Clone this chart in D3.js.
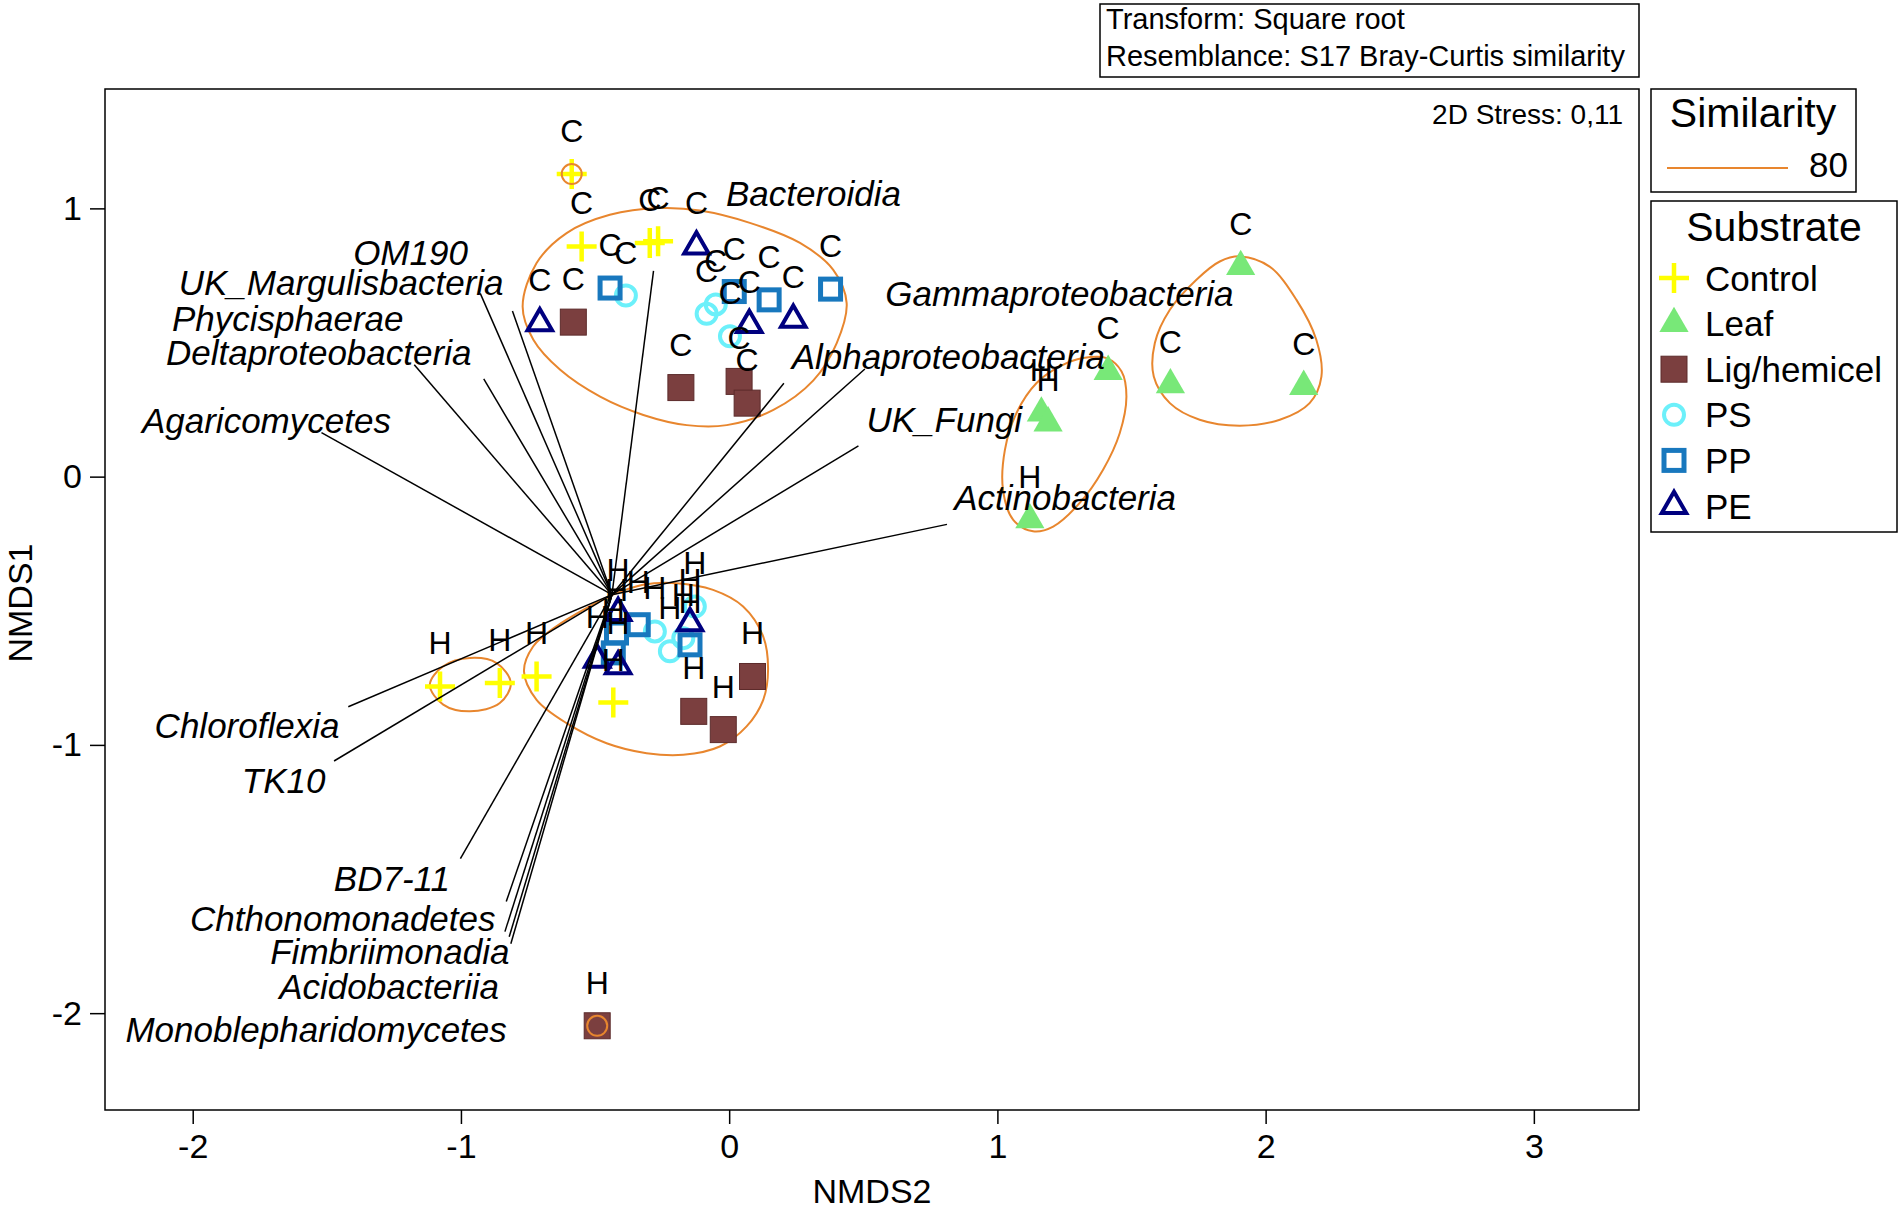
<!DOCTYPE html>
<html>
<head>
<meta charset="utf-8">
<script src="https://cdn.jsdelivr.net/npm/d3@7"></script>
<style>
  body { margin: 0; background: #fff; }
  svg { display: block; font-family: "Liberation Sans", Arial, sans-serif; }
</style>
</head>
<body>
<svg id="chart" width="1902" height="1211"></svg>
<script>
// ---- data (NMDS2 = x, NMDS1 = y) ----
const substrates = ["Control", "Leaf", "Lig/hemicel", "PS", "PP", "PE"];

const controlPts = [[-0.587, 1.128, "C"], [-0.550, 0.858, "C"], [-0.296, 0.871, "C"], [-0.265, 0.877, "C"],
                    [-1.078, -0.782, "H"], [-0.855, -0.769, "H"], [-0.718, -0.745, "H"], [-0.432, -0.842, "H"]];
const leafPts = [[1.907, 0.783, "C"], [1.413, 0.392, "C"], [1.645, 0.342, "C"], [2.142, 0.336, "C"],
                 [1.164, 0.237, "H"], [1.189, 0.200, "H"], [1.121, -0.161, "H"]];
const ligPts = [[-0.581, 0.576, "C"], [-0.180, 0.332, "C"], [0.037, 0.355, "C"], [0.067, 0.274, "C"],
                [0.087, -0.745, "H"], [-0.132, -0.875, "H"], [-0.022, -0.943, "H"], [-0.492, -2.047, "H"]];
const psPts = [[-0.385, 0.675, "C"], [-0.050, 0.642, "C"], [-0.084, 0.607, "C"], [0.003, 0.523, "C"],
               [-0.277, -0.577, "H"], [-0.221, -0.651, "H"], [-0.171, -0.602, "H"], [-0.128, -0.484, "H"]];
const ppPts = [[-0.444, 0.703, "C"], [0.019, 0.690, "C"], [0.149, 0.659, "C"], [0.378, 0.699, "C"],
               [-0.420, -0.583, "H"], [-0.339, -0.552, "H"], [-0.432, -0.657, "H"], [-0.146, -0.627, "H"]];
const pePts = [[-0.706, 0.572, "C"], [-0.122, 0.858, "C"], [0.075, 0.566, "C"], [0.239, 0.585, "C"],
               [-0.492, -0.682, "H"], [-0.414, -0.707, "H"], [-0.414, -0.508, "H"], [-0.146, -0.546, "H"]];

// vector overlay: origin, end of each line, label position (x, baseline y) and side
const vecOrigin = [-0.437, -0.440];
const vectors = [
  ["Agaricomycetes", -1.520, 0.164, -1.261, 0.164, "end"],
  ["Deltaproteobacteria", -1.174, 0.417, -0.961, 0.417, "end"],
  ["Phycisphaerae", -0.915, 0.364, -1.214, 0.544, "end"],
  ["UK_Margulisbacteria", -0.928, 0.683, -0.841, 0.676, "end"],
  ["OM190", -0.808, 0.617, -0.974, 0.790, "end"],
  ["Bacteroidia", -0.282, 0.767, -0.012, 1.010, "start"],
  ["Alphaproteobacteria", 0.204, 0.348, 0.233, 0.402, "start"],
  ["Gammaproteobacteria", 0.506, 0.401, 0.582, 0.635, "start"],
  ["UK_Fungi", 0.482, 0.115, 0.512, 0.168, "start"],
  ["Actinobacteria", 0.812, -0.178, 0.839, -0.125, "start"],
  ["Chloroflexia", -1.420, -0.858, -1.453, -0.975, "end"],
  ["TK10", -1.473, -1.060, -1.505, -1.178, "end"],
  ["BD7-11", -1.002, -1.424, -1.041, -1.543, "end"],
  ["Chthonomonadetes", -0.831, -1.584, -0.871, -1.694, "end"],
  ["Fimbriimonadia", -0.836, -1.696, -0.819, -1.818, "end"],
  ["Acidobacteriia", -0.820, -1.715, -0.858, -1.949, "end"],
  ["Monoblepharidomycetes", -0.814, -1.741, -0.829, -2.106, "end"]
];

// 80% similarity contours
const clusterTop = [[-0.770, 0.634], [-0.718, 0.796], [-0.606, 0.908], [-0.445, 0.976], [-0.258, 1.001],
  [-0.109, 0.992], [0.077, 0.946], [0.264, 0.871], [0.388, 0.771], [0.438, 0.647], [0.401, 0.498],
  [0.314, 0.359], [0.165, 0.249], [-0.009, 0.192], [-0.158, 0.192], [-0.320, 0.230], [-0.481, 0.298],
  [-0.630, 0.398], [-0.730, 0.510]];
const clusterBottom = [[-0.765, -0.726], [-0.731, -0.633], [-0.644, -0.558], [-0.532, -0.490], [-0.433, -0.440],
  [-0.321, -0.403], [-0.197, -0.397], [-0.060, -0.422], [0.052, -0.484], [0.127, -0.596], [0.145, -0.720],
  [0.127, -0.832], [0.065, -0.931], [-0.035, -1.006], [-0.171, -1.037], [-0.308, -1.031], [-0.457, -0.994],
  [-0.606, -0.919], [-0.718, -0.832]];
const clusterCtrlH = [[-1.116, -0.776], [-1.066, -0.707], [-0.966, -0.676], [-0.867, -0.695], [-0.814, -0.769],
  [-0.855, -0.844], [-0.966, -0.875], [-1.066, -0.850]];
const clusterLeafC = [[1.907, 0.821], [2.015, 0.783], [2.115, 0.659], [2.189, 0.510], [2.208, 0.373],
  [2.164, 0.274], [2.053, 0.212], [1.903, 0.190], [1.754, 0.212], [1.643, 0.274], [1.583, 0.373],
  [1.587, 0.498], [1.643, 0.622], [1.742, 0.734], [1.829, 0.802]];
const clusterLeafH = [[1.407, 0.442], [1.463, 0.392], [1.481, 0.299], [1.456, 0.162], [1.394, 0.026],
  [1.307, -0.098], [1.208, -0.186], [1.133, -0.204], [1.059, -0.161], [1.021, -0.049], [1.028, 0.100],
  [1.071, 0.237], [1.146, 0.349], [1.233, 0.411], [1.319, 0.442]];
const singleClusters = [[-0.587, 1.128], [-0.492, -2.047]];

const xTicks = [-2, -1, 0, 1, 2, 3];
const yTicks = [-2, -1, 0, 1];

// ---- styles ----
const ORANGE = "#e8862e";
const col = {
  "Control": "#ffff00", "Leaf": "#78e878", "Lig/hemicel": "#7b3f3f",
  "PS": "#6cf0fa", "PP": "#1878be", "PE": "#00007f"
};

const svg = d3.select("#chart");
const x = d3.scaleLinear().domain([-2.327, 3.392]).range([105, 1639]);
const y = d3.scaleLinear().domain([-2.361, 1.445]).range([1110, 89]);

function marker(g, name, cx, cy) {
    if (name === "Control") {
        g.append("path")
            .attr("d", `M${cx - 15},${cy}H${cx + 15}M${cx},${cy - 15}V${cy + 15}`)
            .attr("stroke", col[name]).attr("stroke-width", 4.5).attr("fill", "none");
    } else if (name === "Leaf") {
        g.append("path").attr("d", d3.symbol(d3.symbolTriangle, 370)())
            .attr("transform", `translate(${cx},${cy})`).attr("fill", col[name]);
    } else if (name === "Lig/hemicel") {
        g.append("rect").attr("x", cx - 13).attr("y", cy - 13).attr("width", 26).attr("height", 26)
            .attr("fill", col[name]).attr("stroke", "#5c2b2b").attr("stroke-width", 1);
    } else if (name === "PS") {
        g.append("circle").attr("cx", cx).attr("cy", cy).attr("r", 10)
            .attr("fill", "none").attr("stroke", col[name]).attr("stroke-width", 4);
    } else if (name === "PP") {
        g.append("rect").attr("x", cx - 10).attr("y", cy - 10).attr("width", 20).attr("height", 20)
            .attr("fill", "none").attr("stroke", col[name]).attr("stroke-width", 5);
    } else if (name === "PE") {
        g.append("path").attr("d", d3.symbol(d3.symbolTriangle, 260)())
            .attr("transform", `translate(${cx},${cy})`)
            .attr("fill", "none").attr("stroke", col[name]).attr("stroke-width", 4)
            .attr("stroke-linejoin", "miter");
    }
}

// ---- top info box ----
svg.append("rect").attr("x", 1100).attr("y", 4).attr("width", 539).attr("height", 73)
    .attr("fill", "none").attr("stroke", "#000").attr("stroke-width", 1.5);
svg.append("text").attr("x", 1106).attr("y", 29).attr("font-size", 29).text("Transform: Square root");
svg.append("text").attr("x", 1106).attr("y", 66).attr("font-size", 29).text("Resemblance: S17 Bray-Curtis similarity");

// ---- plot frame & axes ----
svg.append("rect").attr("x", 105).attr("y", 89).attr("width", 1534).attr("height", 1021)
    .attr("fill", "none").attr("stroke", "#000").attr("stroke-width", 1.5);

const gx = svg.append("g").attr("transform", "translate(0,1110)")
    .call(d3.axisBottom(x).tickValues(xTicks).tickSize(14).tickPadding(10).tickFormat(d3.format("d")));
const gy = svg.append("g").attr("transform", "translate(105,0)")
    .call(d3.axisLeft(y).tickValues(yTicks).tickSize(15).tickPadding(8).tickFormat(d3.format("d")));
[gx, gy].forEach(g => {
    g.select(".domain").remove();
    g.selectAll("line").attr("stroke", "#000").attr("stroke-width", 1.5);
    g.selectAll("text").attr("font-size", 34).attr("font-family", "Liberation Sans, Arial, sans-serif").attr("fill", "#000");
});
// d3 uses the unicode minus; the original uses a hyphen
gx.selectAll("text").text(d => String(d));
gy.selectAll("text").text(d => String(d));

svg.append("text").attr("x", 872).attr("y", 1203).attr("text-anchor", "middle")
    .attr("font-size", 34).text("NMDS2");
svg.append("text").attr("transform", "translate(32,603) rotate(-90)").attr("text-anchor", "middle")
    .attr("font-size", 34).text("NMDS1");

svg.append("text").attr("x", 1623).attr("y", 124).attr("text-anchor", "end")
    .attr("font-size", 28).text("2D Stress: 0,11");

// ---- similarity contours ----
const contour = d3.line().x(d => x(d[0])).y(d => y(d[1])).curve(d3.curveCatmullRomClosed);
const cg = svg.append("g");
[clusterTop, clusterBottom, clusterCtrlH, clusterLeafC, clusterLeafH].forEach(c => {
    cg.append("path").attr("d", contour(c)).attr("fill", "none").attr("stroke", ORANGE).attr("stroke-width", 2);
});

// ---- points ----
const groups = [
    ["Control", controlPts], ["Leaf", leafPts], ["Lig/hemicel", ligPts],
    ["PS", psPts], ["PP", ppPts], ["PE", pePts]
];
const pg = svg.append("g");
groups.forEach(([name, pts]) => {
    pts.forEach(p => marker(pg, name, x(p[0]), y(p[1])));
});
singleClusters.forEach(p => {
    cg.clone(false);
    svg.append("circle").attr("cx", x(p[0])).attr("cy", y(p[1])).attr("r", 10)
        .attr("fill", "none").attr("stroke", ORANGE).attr("stroke-width", 2);
});

// ---- vectors ----
const vg = svg.append("g");
vectors.forEach(v => {
    vg.append("line")
        .attr("x1", x(vecOrigin[0])).attr("y1", y(vecOrigin[1]))
        .attr("x2", x(v[1])).attr("y2", y(v[2]))
        .attr("stroke", "#000").attr("stroke-width", 1.5);
});

// ---- C / H sample labels ----
const lg = svg.append("g");
groups.forEach(([name, pts]) => {
    pts.forEach(p => {
        lg.append("text").attr("x", x(p[0])).attr("y", y(p[1]) - 32)
            .attr("text-anchor", "middle").attr("font-size", 32).text(p[2]);
    });
});

// ---- vector labels ----
vectors.forEach(v => {
    vg.append("text").attr("x", x(v[3])).attr("y", y(v[4]))
        .attr("text-anchor", v[5]).attr("font-size", 35).attr("font-style", "italic").text(v[0]);
});

// ---- similarity legend ----
svg.append("rect").attr("x", 1651).attr("y", 89).attr("width", 205).attr("height", 103)
    .attr("fill", "none").attr("stroke", "#000").attr("stroke-width", 1.5);
svg.append("text").attr("x", 1753).attr("y", 127).attr("text-anchor", "middle")
    .attr("font-size", 41).text("Similarity");
svg.append("line").attr("x1", 1667).attr("x2", 1788).attr("y1", 168).attr("y2", 168)
    .attr("stroke", ORANGE).attr("stroke-width", 2);
svg.append("text").attr("x", 1848).attr("y", 177).attr("text-anchor", "end")
    .attr("font-size", 35).text("80");

// ---- substrate legend ----
svg.append("rect").attr("x", 1651).attr("y", 201).attr("width", 246).attr("height", 331)
    .attr("fill", "none").attr("stroke", "#000").attr("stroke-width", 1.5);
svg.append("text").attr("x", 1774).attr("y", 241).attr("text-anchor", "middle")
    .attr("font-size", 41).text("Substrate");
const legY = d3.scalePoint().domain(substrates).range([278, 506]);
const sg = svg.append("g");
substrates.forEach(s => {
    marker(sg, s, 1674, legY(s));
    sg.append("text").attr("x", 1705).attr("y", legY(s) + 12.5).attr("font-size", 35).text(s);
});
</script>
</body>
</html>
